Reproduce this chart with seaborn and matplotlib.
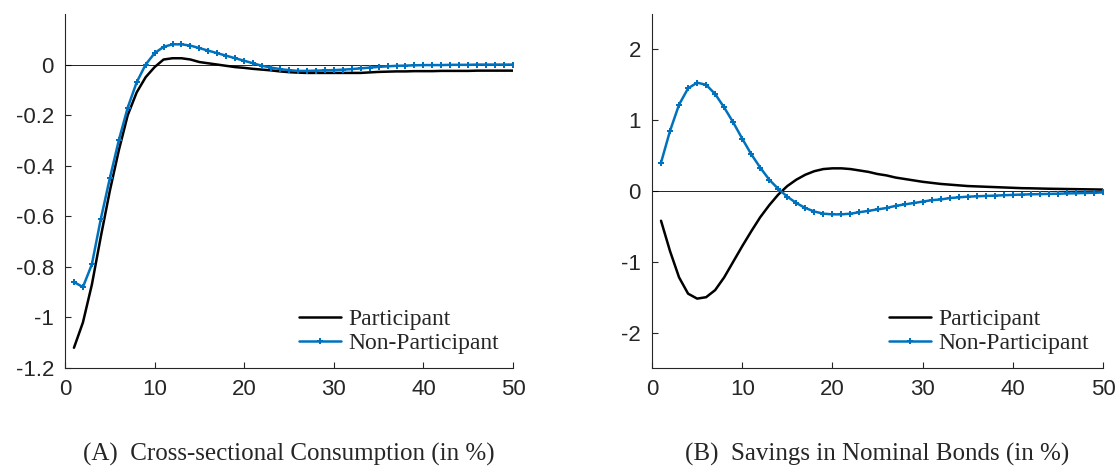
import numpy as np
import pandas as pd
import seaborn as sns
import matplotlib
matplotlib.use("Agg")
import matplotlib.pyplot as plt

t = list(range(1, 51))
cons_part = [-1.12,-1.02,-0.87,-0.68,-0.50,-0.34,-0.20,-0.11,-0.05,-0.01,0.02,0.025,0.025,0.02,0.01,0.005,0.0,-0.005,-0.01,-0.013,
             -0.017,-0.02,-0.023,-0.027,-0.03,-0.032,-0.033,-0.033,-0.033,-0.033,-0.033,-0.033,-0.033,-0.031,-0.029,-0.028,-0.027,-0.027,-0.026,-0.026,
             -0.026,-0.025,-0.025,-0.025,-0.025,-0.024,-0.024,-0.024,-0.024,-0.024]
cons_non = [-0.86,-0.88,-0.79,-0.61,-0.45,-0.30,-0.17,-0.07,0.0,0.045,0.07,0.08,0.08,0.075,0.065,0.055,0.045,0.035,0.025,0.015,
            0.005,-0.005,-0.012,-0.018,-0.022,-0.025,-0.025,-0.024,-0.023,-0.022,-0.02,-0.018,-0.015,-0.012,-0.009,-0.007,-0.005,-0.004,-0.003,-0.002,
            -0.002,-0.002,-0.001,-0.001,-0.001,0.0,0.0,0.0,0.0,0.0]
bond_part = [-0.42,-0.85,-1.22,-1.45,-1.52,-1.50,-1.40,-1.22,-1.00,-0.78,-0.57,-0.37,-0.20,-0.05,0.07,0.16,0.23,0.28,0.31,0.32,
             0.32,0.31,0.29,0.27,0.24,0.22,0.19,0.17,0.15,0.13,0.115,0.10,0.09,0.08,0.07,0.065,0.06,0.055,0.05,0.045,
             0.04,0.038,0.035,0.032,0.03,0.028,0.026,0.024,0.022,0.02]
bond_non = [0.40,0.85,1.22,1.45,1.53,1.50,1.37,1.18,0.97,0.74,0.52,0.33,0.16,0.03,-0.08,-0.17,-0.24,-0.29,-0.32,-0.33,
            -0.33,-0.32,-0.30,-0.28,-0.26,-0.24,-0.21,-0.19,-0.17,-0.15,-0.13,-0.12,-0.10,-0.09,-0.08,-0.075,-0.07,-0.065,-0.06,-0.055,
            -0.05,-0.047,-0.044,-0.041,-0.038,-0.035,-0.032,-0.028,-0.025,-0.02]
captions = [r"(A)  Cross-sectional Consumption (in %)", r"(B)  Savings in Nominal Bonds (in %)"]

sns.set_style("white")
plt.rcParams['font.family'] = ['Liberation Sans', 'DejaVu Sans']
fig = plt.figure(figsize=(11.17, 4.73), dpi=100)
ax1 = fig.add_axes([65/1117, 1-368/473, 448/1117, 354/473])
ax2 = fig.add_axes([652/1117, 1-368/473, 451/1117, 354/473])
blue = "#0072BD"
serif = "Liberation Serif"
for ax, p, n, cap, yl, yt in [(ax1, cons_part, cons_non, captions[0], (-1.2, 0.2), np.arange(-1.2, 0.01, 0.2)),
                              (ax2, bond_part, bond_non, captions[1], (-2.5, 2.5), np.arange(-2, 2.1, 1))]:
    df = pd.DataFrame({"t": t, "Participant": p, "Non-Participant": n})
    ax.axhline(0, color="black", lw=0.6)
    sns.lineplot(data=df, x="t", y="Participant", ax=ax, color="black", lw=1.8, label="Participant")
    sns.lineplot(data=df, x="t", y="Non-Participant", ax=ax, color=blue, lw=1.8, marker="P", markersize=4,
                 markeredgewidth=0, label="Non-Participant")
    ax.set_xlim(0, 50); ax.set_ylim(*yl)
    ax.set_xticks([0, 10, 20, 30, 40, 50]); ax.set_yticks(yt)
    ax.set_yticklabels([("%g" % v) if abs(v) > 1e-9 else "0" for v in np.round(yt, 1)])
    ax.set_xlabel(""); ax.set_ylabel("")
    for s in ["top", "right"]:
        ax.spines[s].set_visible(False)
    for s in ["left", "bottom"]:
        ax.spines[s].set_color("#262626"); ax.spines[s].set_linewidth(0.8)
    ax.tick_params(direction="in", length=4, labelsize=16, pad=8, left=True, bottom=True, colors="#262626")
    ax.legend(loc="lower right", frameon=False, prop={"family": serif, "size": 17},
              handlelength=1.8, borderaxespad=0.2, labelspacing=0.1, handletextpad=0.3)
    ax.text(0.5, -0.245, cap, transform=ax.transAxes, ha="center", va="center", family=serif, fontsize=18)
fig.savefig("out.png", dpi=100)
